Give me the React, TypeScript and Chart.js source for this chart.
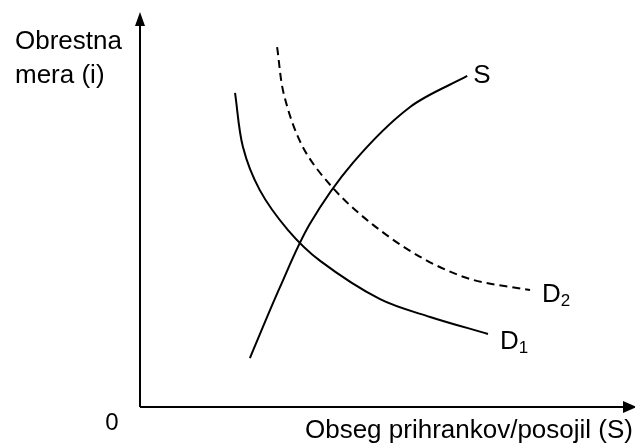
import React, { useEffect, useRef } from "react";
import { Chart, registerables } from "chart.js";

Chart.register(...registerables);

// Axis ranges (data units)
const X_MAX = 100;
const Y_MAX = 100;

// Demand curve D1 (solid)
const d1X = [19.2, 20.8, 24.2, 29.9, 36.4, 48.5, 58.6, 70.3];
const d1Y = [79.5, 65.8, 54.9, 44.8, 37.0, 27.3, 22.8, 18.5];

// Demand curve D2 (dashed)
const d2X = [27.7, 29.1, 32.9, 39.0, 46.9, 56.6, 66.7, 78.8];
const d2Y = [91.1, 79.0, 65.8, 55.4, 46.3, 38.0, 32.4, 29.6];

// Supply curve S
const sX = [22.2, 28.3, 34.3, 43.0, 54.5, 66.1];
const sY = [12.4, 30.4, 46.3, 61.8, 75.9, 83.8];

const yTitle = ["Obrestna", "mera (i)"];
const xTitle = "Obseg prihrankov/posojil (S)";
const originLabel = "0";

const curveLabels = [
  { main: "S", sub: "" },
  { main: "D", sub: "1" },
  { main: "D", sub: "2" },
];

const FONT = "'Liberation Sans', Arial, sans-serif";

function pts(xs: number[], ys: number[]) {
  return xs.map((x, i) => ({ x, y: ys[i] }));
}

const decorPlugin = {
  id: "decor",
  afterDraw(chart: any) {
    const ctx = chart.ctx as CanvasRenderingContext2D;
    const xs = chart.scales.x;
    const ys = chart.scales.y;
    const x0 = xs.getPixelForValue(0);
    const y0 = ys.getPixelForValue(0);
    const xEnd = xs.getPixelForValue(X_MAX);
    const yEnd = ys.getPixelForValue(Y_MAX);
    ctx.save();
    ctx.strokeStyle = "#000";
    ctx.fillStyle = "#000";
    ctx.lineWidth = 2;
    // axes
    ctx.beginPath();
    ctx.moveTo(x0, y0);
    ctx.lineTo(x0, yEnd + 12);
    ctx.moveTo(x0, y0);
    ctx.lineTo(xEnd - 10, y0);
    ctx.stroke();
    // arrow heads
    ctx.beginPath();
    ctx.moveTo(x0, yEnd);
    ctx.lineTo(x0 - 5, yEnd + 14);
    ctx.lineTo(x0 + 5, yEnd + 14);
    ctx.closePath();
    ctx.fill();
    ctx.beginPath();
    ctx.moveTo(xEnd + 2, y0);
    ctx.lineTo(xEnd - 12, y0 - 6);
    ctx.lineTo(xEnd - 12, y0 + 6);
    ctx.closePath();
    ctx.fill();

    // axis titles
    ctx.font = `26px ${FONT}`;
    ctx.textAlign = "left";
    ctx.textBaseline = "alphabetic";
    ctx.fillText(yTitle[0], 15, 49);
    ctx.fillText(yTitle[1], 15, 83);
    ctx.textAlign = "right";
    ctx.fillText(xTitle, 633, 438);
    ctx.textAlign = "center";
    ctx.font = `24px ${FONT}`;
    ctx.fillText(originLabel, x0 - 28, y0 + 23);

    // curve labels
    const offsets = [
      { dx: 6, dy: 7 },
      { dx: 12, dy: 15 },
      { dx: 12, dy: 12 },
    ];
    chart.data.datasets.forEach((ds: any, i: number) => {
      const last = ds.data[ds.data.length - 1];
      const px = xs.getPixelForValue(last.x) + offsets[i].dx;
      const py = ys.getPixelForValue(last.y) + offsets[i].dy;
      const lab = curveLabels[i];
      ctx.textAlign = "left";
      ctx.font = `26px ${FONT}`;
      ctx.fillText(lab.main, px, py);
      if (lab.sub) {
        const w = ctx.measureText(lab.main).width;
        ctx.font = `17px ${FONT}`;
        ctx.fillText(lab.sub, px + w, py + 4);
      }
    });
    ctx.restore();
  },
};

export default function App() {
  const ref = useRef<HTMLCanvasElement | null>(null);
  useEffect(() => {
    document.body.style.margin = "0";
    if (!ref.current) return;
    const line = (data: any, dash: number[]) => ({
      data,
      showLine: true,
      borderColor: "#000",
      borderWidth: 2,
      borderDash: dash,
      pointRadius: 0,
      fill: false,
      tension: 0.33,
    });
    const chart = new Chart(ref.current, {
      type: "scatter",
      data: {
        datasets: [
          line(pts(sX, sY), []),
          line(pts(d1X, d1Y), []),
          line(pts(d2X, d2Y), [8, 5]),
        ],
      },
      options: {
        animation: false,
        responsive: false,
        devicePixelRatio: 1,
        layout: { padding: { left: 140, top: 12, right: 0, bottom: 41 } },
        plugins: { legend: { display: false }, tooltip: { enabled: false } },
        scales: {
          x: { type: "linear", min: 0, max: X_MAX, display: false },
          y: { type: "linear", min: 0, max: Y_MAX, display: false },
        },
      },
      plugins: [decorPlugin],
    });
    return () => chart.destroy();
  }, []);
  return (
    <div style={{ width: 635, height: 448, background: "#fff" }}>
      <canvas ref={ref} width={635} height={448} />
    </div>
  );
}
